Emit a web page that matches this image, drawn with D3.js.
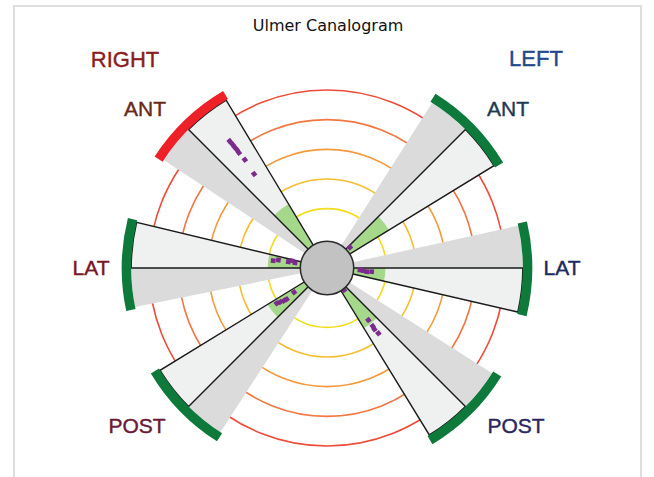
<!DOCTYPE html>
<html>
<head>
<meta charset="utf-8">
<script src="https://cdn.jsdelivr.net/npm/d3@7/dist/d3.min.js"></script>
<style>
  html, body { margin: 0; padding: 0; background: #fff; }
  svg { display: block; }
</style>
</head>
<body>
<svg id="chart" width="654" height="477"></svg>
<script>
// 六个扇区：右侧 ANT/LAT/POST，左侧 ANT/LAT/POST
const wedgeNames = ['R-ANT', 'R-LAT', 'R-POST', 'L-ANT', 'L-LAT', 'L-POST'];
const wedgeAngles = [225, 180, 135, 315, 0, 45];          // 屏幕角度（度，顺时针，0 = 向右）
const lightSpan = [14, 13.5, 13.5, 13.5, 13, 13.5];       // 浅色扇区张角
const graySpan = [11.5, 11.5, 12, 12.5, 12.5, 12.5];      // 灰色扇区张角
const normalLimit = [2.52, 2.0, 2.35, 2.45, 1.97, 2.38];   // 绿色正常区外径
const outerStatus = ['bad', 'ok', 'ok', 'ok', 'ok', 'ok']; // 外圈状态

// 数据点 [角度偏移, 半径]
const pointsRAnt = [[7.5, 5.39], [7.6, 5.25], [7.6, 5.12], [7.7, 5.0], [7.6, 4.89], [7.8, 4.58], [7.2, 4.01]];
const pointsRLat = [[9.4, 1.09], [11.7, 1.21], [9.2, 1.32], [9.3, 1.66], [7.7, 1.83]];
const pointsRPost = [[8.6, 1.38], [7.2, 1.72], [7.8, 1.82], [8.9, 1.95], [9.9, 2.07]];
const pointsLAnt = [[3, 1.04]];
const pointsLLat = [[3.5, 1.11], [4.2, 1.23], [5.3, 1.35], [4.7, 1.51]];
const pointsLPost = [[7.3, 0.94], [6.5, 2.24], [6.8, 2.49], [7.3, 2.61], [6.8, 2.80]];
const allPoints = [pointsRAnt, pointsRLat, pointsRPost, pointsLAnt, pointsLLat, pointsLPost];

// 同心圆刻度
const ringValues = [2, 3, 4, 5, 6];
const ringColors = ['#f2dc1c', '#f6bd2e', '#f59a3b', '#f37742', '#ee4b38'];
const hubValue = 0.9;
const wedgeValue = 6.6;
const bandWidth = 0.32;

// 文字标签
const labels = [
  { text: 'RIGHT', x: 125, y: 67, size: 22, color: '#8b1d1d' },
  { text: 'LEFT', x: 536, y: 66, size: 22, color: '#1f4a8c' },
  { text: 'ANT', x: 145, y: 116, size: 21, color: '#6a2818' },
  { text: 'ANT', x: 508, y: 116, size: 21, color: '#1d3a52' },
  { text: 'LAT', x: 91, y: 275, size: 21, color: '#7a1626' },
  { text: 'LAT', x: 562, y: 275, size: 21, color: '#1c2a5c' },
  { text: 'POST', x: 137, y: 433, size: 21, color: '#6a1a36' },
  { text: 'POST', x: 516, y: 433, size: 21, color: '#2a2660' }
];

const svg = d3.select('#chart');
const cx = 327, cy = 268;

// 半径比例尺
const r = d3.scaleLinear().domain([0, 6]).range([0, 178]);
const rad = deg => (deg + 90) * Math.PI / 180; // 屏幕角度 -> d3.arc 角度

// 外框
svg.append('rect')
  .attr('x', 14).attr('y', 6)
  .attr('width', 627).attr('height', 490)
  .attr('fill', 'none')
  .attr('stroke', '#dedede')
  .attr('stroke-width', 2);

// 标题
svg.append('text')
  .attr('x', 328).attr('y', 31)
  .attr('text-anchor', 'middle')
  .attr('font-family', 'DejaVu Sans')
  .attr('font-size', 16)
  .attr('fill', '#111')
  .text('Ulmer Canalogram');

const g = svg.append('g').attr('transform', `translate(${cx},${cy})`);

// 同心圆
g.selectAll('circle.ring')
  .data(ringValues)
  .join('circle')
  .attr('class', 'ring')
  .attr('r', d => r(d))
  .attr('fill', 'none')
  .attr('stroke', (d, i) => ringColors[i])
  .attr('stroke-width', 1.6);

const arc = d3.arc();
const idx = d3.range(wedgeNames.length);

// 灰色扇区
g.selectAll('path.gray')
  .data(idx)
  .join('path')
  .attr('class', 'gray')
  .attr('d', i => arc({
    innerRadius: 0, outerRadius: r(wedgeValue),
    startAngle: rad(wedgeAngles[i] - graySpan[i]), endAngle: rad(wedgeAngles[i])
  }))
  .attr('fill', '#dcdbdb');

// 浅色扇区（填充）
const lightArc = i => arc({
  innerRadius: 0, outerRadius: r(wedgeValue),
  startAngle: rad(wedgeAngles[i]), endAngle: rad(wedgeAngles[i] + lightSpan[i])
});
g.selectAll('path.light')
  .data(idx)
  .join('path')
  .attr('class', 'light')
  .attr('d', lightArc)
  .attr('fill', '#eff0f0');

// 绿色正常区
g.selectAll('path.normal')
  .data(idx)
  .join('path')
  .attr('class', 'normal')
  .attr('d', i => arc({
    innerRadius: 0, outerRadius: r(normalLimit[i]),
    startAngle: rad(wedgeAngles[i]), endAngle: rad(wedgeAngles[i] + lightSpan[i])
  }))
  .attr('fill', '#a6d88c');

// 浅色扇区描边
g.selectAll('path.outline')
  .data(idx)
  .join('path')
  .attr('class', 'outline')
  .attr('d', lightArc)
  .attr('fill', 'none')
  .attr('stroke', '#1a1a1a')
  .attr('stroke-width', 1.4);

// 外圈色带
g.selectAll('path.band')
  .data(idx)
  .join('path')
  .attr('class', 'band')
  .attr('d', i => arc({
    innerRadius: r(wedgeValue), outerRadius: r(wedgeValue + bandWidth),
    startAngle: rad(wedgeAngles[i] - graySpan[i] - 0.6),
    endAngle: rad(wedgeAngles[i] + lightSpan[i] + 0.6)
  }))
  .attr('fill', i => outerStatus[i] === 'bad' ? '#ee2128' : '#0d7a3b');

// 数据点
const pts = [];
allPoints.forEach((list, i) => list.forEach(p => pts.push({ a: wedgeAngles[i] + p[0], v: p[1] })));
g.selectAll('path.pt')
  .data(pts)
  .join('path')
  .attr('class', 'pt')
  .attr('d', d3.symbol(d3.symbolSquare, 22))
  .attr('transform', d => {
    const a = d.a * Math.PI / 180;
    return `translate(${r(d.v) * Math.cos(a)},${r(d.v) * Math.sin(a)}) rotate(${d.a})`;
  })
  .attr('fill', '#7b2b8c');

// 中心圆
g.append('circle')
  .attr('r', r(hubValue))
  .attr('fill', '#c2c2c2')
  .attr('stroke', '#2a2a2a')
  .attr('stroke-width', 1.5);

// 方位标签
svg.selectAll('text.lab')
  .data(labels)
  .join('text')
  .attr('class', 'lab')
  .attr('x', d => d.x).attr('y', d => d.y)
  .attr('text-anchor', 'middle')
  .attr('font-family', 'Liberation Sans, Arial, sans-serif')
  .attr('font-size', d => d.size)
  .attr('fill', d => d.color)
  .attr('stroke', d => d.color)
  .attr('stroke-width', 0.4)
  .text(d => d.text);
</script>
</body>
</html>
